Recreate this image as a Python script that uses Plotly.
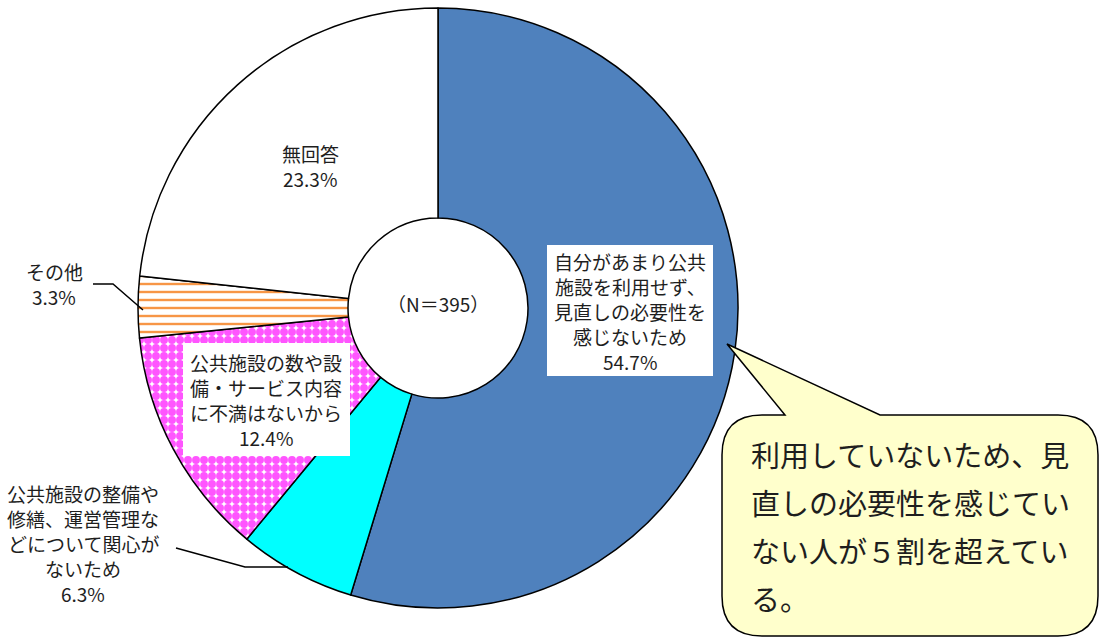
import plotly.graph_objects as go

labels = [
    "自分があまり公共施設を利用せず、見直しの必要性を感じないため",
    "公共施設の整備や修繕、運営管理などについて関心がないため",
    "公共施設の数や設備・サービス内容に不満はないから",
    "その他",
    "無回答",
]
values = [54.7, 6.3, 12.4, 3.3, 23.3]
label_lines = [
    ["自分があまり公共", "施設を利用せず、", "見直しの必要性を", "感じないため", "54.7%"],
    ["公共施設の整備や", "修繕、運営管理な", "どについて関心が", "ないため", "6.3%"],
    ["公共施設の数や設", "備・サービス内容", "に不満はないから", "12.4%"],
    ["その他", "3.3%"],
    ["無回答", "23.3%"],
]
fill_colors = ["#4F81BD", "#00FFFF", "#FFFFFF", "#FFFFFF", "#FFFFFF"]
pattern_shapes = ["", "", ".", "-", ""]
pattern_fg = ["#4F81BD", "#00FFFF", "#FF55FF", "#F79646", "#FFFFFF"]
center_text = "（N＝395）"
callout_lines = ["利用していないため、見", "直しの必要性を感じてい", "ない人が５割を超えてい", "る。"]

FONT = "Noto Sans CJK JP"
W, H = 1100, 640

fig = go.Figure()

# pie geometry (pixels)
cx, cy, R = 438, 308, 300
fig.add_trace(go.Pie(
    labels=labels, values=values, sort=False, direction="clockwise", rotation=0,
    hole=0.3, textinfo="none", hoverinfo="label+percent", showlegend=False,
    marker=dict(colors=fill_colors, line=dict(color="#000000", width=1.5),
                pattern=dict(shape=pattern_shapes, fgcolor=pattern_fg,
                             bgcolor=fill_colors, size=8, solidity=[0.3, 0.3, 0.77, 0.3, 0.3])),
    domain=dict(x=[(cx - R) / W, (cx + R) / W], y=[1 - (cy + R) / H, 1 - (cy - R) / H]),
))

# overlay axis in pixel coordinates
fig.update_xaxes(range=[0, W], visible=False, fixedrange=True)
fig.update_yaxes(range=[H, 0], visible=False, fixedrange=True)
fig.add_trace(go.Scatter(x=[0], y=[0], mode="markers", marker=dict(opacity=0), hoverinfo="skip", showlegend=False))

txt = dict(family=FONT, size=19, color="#1E1E1E")
LS = 25

# white boxes behind two labels
fig.add_shape(type="rect", xref="x", yref="y", x0=547, x1=713, y0=245, y1=376,
              fillcolor="#FFFFFF", line=dict(width=0))
fig.add_shape(type="rect", xref="x", yref="y", x0=183, x1=350, y0=343, y1=456,
              fillcolor="#FFFFFF", line=dict(width=0))


def add_block(lines, x, y_first):
    for i, s in enumerate(lines):
        fig.add_annotation(x=x, y=y_first + i * LS, xref="x", yref="y", text=s,
                           showarrow=False, font=txt, align="center")


add_block(label_lines[0], 630, 261)
add_block(label_lines[2], 266, 362)
add_block(label_lines[1], 83, 493)
add_block(label_lines[3], 54, 271)
add_block(label_lines[4], 310, 153)

fig.add_annotation(x=438, y=303, xref="x", yref="y", text=center_text, showarrow=False,
                   font=dict(family=FONT, size=19, color="#1E1E1E"))

# leader lines
fig.add_shape(type="path", xref="x", yref="y", path="M93,284 L113,284 L143,310",
              line=dict(color="#000000", width=1.5))
fig.add_shape(type="path", xref="x", yref="y", path="M176,548 L245,567 L288,567",
              line=dict(color="#000000", width=1.5))

# callout bubble
x0, x1, y0, y1, r = 722, 1098, 415, 636, 40
bubble = (f"M{x0+r},{y0} L785,{y0} L727,344 L880,{y0} L{x1-r},{y0} Q{x1},{y0} {x1},{y0+r} "
          f"L{x1},{y1-r} Q{x1},{y1} {x1-r},{y1} L{x0+r},{y1} Q{x0},{y1} {x0},{y1-r} "
          f"L{x0},{y0+r} Q{x0},{y0} {x0+r},{y0} Z")
fig.add_shape(type="path", xref="x", yref="y", path=bubble,
              fillcolor="#FFFFCC", line=dict(color="#000000", width=1.5))
for i, line in enumerate(callout_lines):
    fig.add_annotation(x=749, y=454 + i * 48, xref="x", yref="y", text=line, showarrow=False,
                       xanchor="left", font=dict(family=FONT, size=29, color="#1E1E1E"))

fig.update_layout(width=W, height=H, margin=dict(l=0, r=0, t=0, b=0),
                  paper_bgcolor="#FFFFFF", plot_bgcolor="rgba(0,0,0,0)",
                  font=dict(family=FONT))
fig.write_html("out.html", config={"displayModeBar": False},
               post_script="document.body.style.margin='0';")
